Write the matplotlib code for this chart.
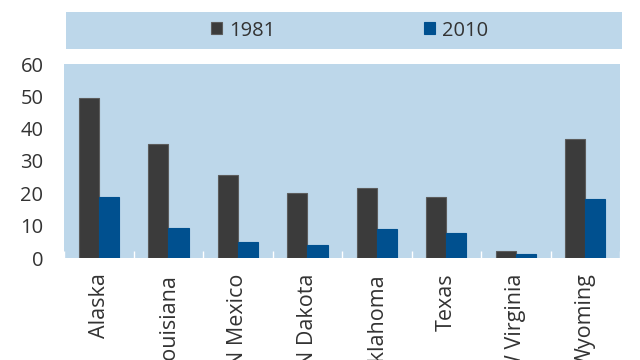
import matplotlib.pyplot as plt
import numpy as np

states = ["Alaska", "Louisiana", "N Mexico", "N Dakota", "Oklahoma",
          "Texas", "W Virginia", "Wyoming"]
v1981 = [49.4, 35.3, 25.8, 20.2, 21.6, 18.9, 2.2, 36.9]
v2010 = [19.0, 9.4, 5.0, 4.1, 9.0, 7.6, 1.2, 18.4]

bg = "#bdd7ea"
c81 = "#3b3b3b"
c10 = "#00508f"
txt = "#333333"

plt.rcParams['font.family'] = ['Open Sans', 'DejaVu Sans']
plt.rcParams['font.size'] = 14.5

fig = plt.figure(figsize=(6.4, 3.6), dpi=100)
ax = fig.add_axes([64.3 / 640, 1 - 258 / 360, 555.7 / 640, 194 / 360])
ax.set_facecolor(bg)

x = np.arange(len(states))
w = 0.29
b1 = ax.bar(x - w / 2, v1981, w, color=c81, edgecolor="#5c5c5c", linewidth=0.8, label="1981")
b2 = ax.bar(x + w / 2, v2010, w, color=c10, edgecolor=c10, linewidth=0.8, label="2010")

ax.set_xlim(-0.5, len(states) - 0.5)
ax.set_ylim(0, 60)
ax.set_yticks(range(0, 61, 10))
for s in ax.spines.values():
    s.set_visible(False)
ax.tick_params(axis="y", length=0, pad=15, colors=txt)
ax.set_xticks(x)
ax.set_xticklabels(states, rotation=90, va="top", ha="center", color=txt, fontsize=15.5)
ax.tick_params(axis="x", which="major", length=0, pad=11)
ax.set_xticks(np.arange(-0.5, len(states), 1), minor=True)
ax.tick_params(axis="x", which="minor", direction="in", length=5, width=1, color="white")

# legend band
lax = fig.add_axes([66 / 640, 1 - 49 / 360, 556 / 640, 37 / 360])
lax.set_facecolor(bg)
lax.set_xticks([])
lax.set_yticks([])
for s in lax.spines.values():
    s.set_visible(False)
lax.legend(handles=[b1, b2], loc="center", ncol=2, frameon=False,
           handlelength=0.55, handleheight=0.55, handletextpad=0.35,
           columnspacing=7.4, labelcolor=txt, bbox_to_anchor=(0.51, 0.5))

fig.savefig("out.png", dpi=100)
